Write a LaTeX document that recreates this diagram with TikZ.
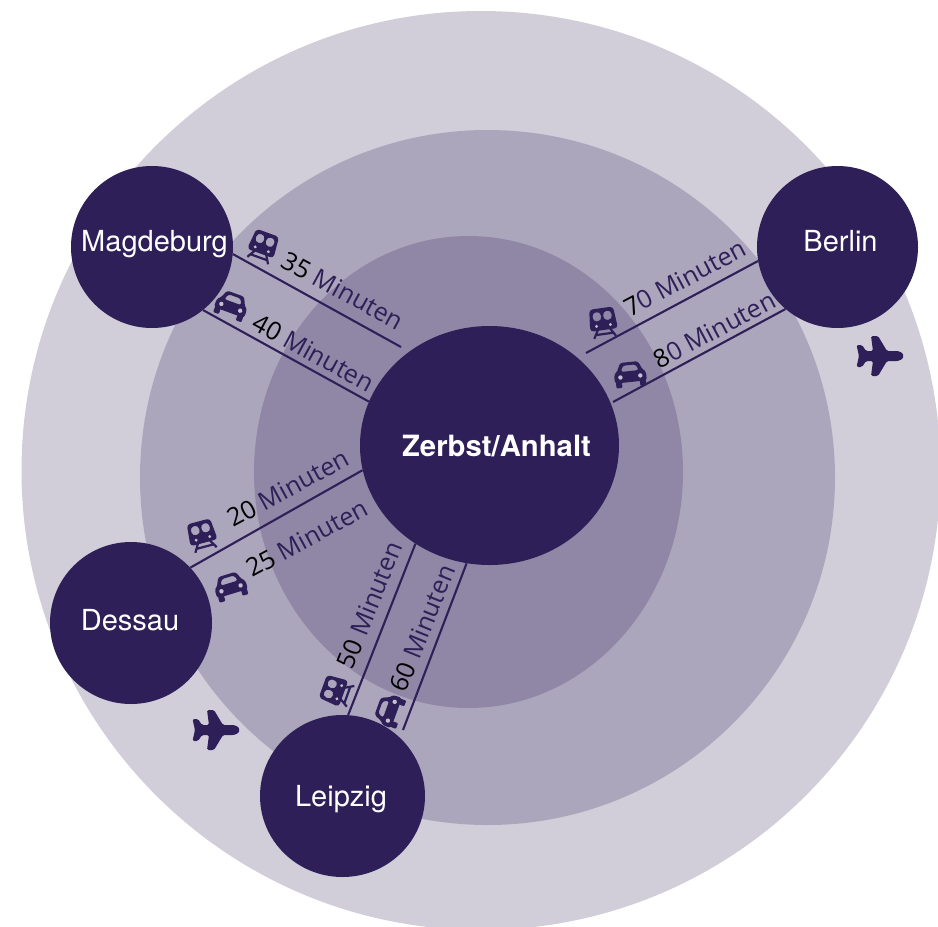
\documentclass[tikz,border=0pt]{standalone}
\usepackage{fontspec}
\setmainfont{TeX Gyre Heros}
\newfontfamily\minfont{Open Sans}
\usetikzlibrary{shapes.geometric}
\definecolor{ringa}{HTML}{D1CEDA}
\definecolor{ringb}{HTML}{ABA6BB}
\definecolor{ringc}{HTML}{9087A6}
\definecolor{deep}{HTML}{2E1F58}
\tikzset{
  city/.style={ellipse,fill=deep,draw=none,inner sep=0pt},
  cityname/.style={text=white,font=\fontsize{29}{30}\selectfont,inner sep=0pt,anchor=base},
  link/.style={draw=deep,line width=2.1pt},
  time/.style={text=deep,font=\minfont\fontsize{25.2}{27}\selectfont,inner sep=0pt},
  trainicon/.pic={
    \fill[deep,even odd rule,rounded corners=3.5pt]
      (-12,-14) -- (12,-14) -- (14,8) -- (-14,8) -- cycle
      (-9.5,-10.5) -- (-1.2,-10.5) -- (-1.2,-1.5) -- (-9.5,-1.5) -- cycle
      (1.2,-10.5) -- (9.5,-10.5) -- (9.5,-1.5) -- (1.2,-1.5) -- cycle;
    \fill[ringb!70!white] (-7,3.5) circle (1.6);
    \fill[ringb!70!white] (7,3.5) circle (1.6);
    \draw[deep,line width=2.2pt] (-6,7) -- (-11,15.5) (6,7) -- (11,15.5) (-9.5,12) -- (9.5,12);
  },
  caricon/.pic={
    \fill[deep,even odd rule,rounded corners=2.5pt]
      (-9,-11) -- (9,-11) -- (13,-2) -- (16,0) -- (16,9) -- (-16,9) -- (-16,0) -- (-13,-2) -- cycle
      (-6.5,-8) -- (6.5,-8) -- (9,-2) -- (-9,-2) -- cycle;
    \fill[ringb!70!white] (-10,3.5) circle (2.2);
    \fill[ringb!70!white] (10,3.5) circle (2.2);
    \fill[deep,rounded corners=1pt] (-15,8) rectangle (-9,14);
    \fill[deep,rounded corners=1pt] (9,8) rectangle (15,14);
  },
  planeicon/.pic={
    \fill[deep,rounded corners=1.5pt]
      (23,0) .. controls (23,-3) and (19,-5) .. (15,-5)
      -- (7,-5) -- (-2,-20) -- (-9,-20) -- (-7,-5) -- (-14,-5) -- (-18,-11) -- (-23.5,-11)
      -- (-21,0) -- (-23.5,11) -- (-18,11) -- (-14,5) -- (-7,5) -- (-9,20) -- (-2,20) -- (7,5) -- (15,5)
      .. controls (19,5) and (23,3) .. (23,0) -- cycle;
  }
}
\begin{document}
\begin{tikzpicture}[x=1pt,y=-1pt]
\useasboundingbox (0,0) rectangle (938,927);
\clip (0,0) rectangle (938,927);
\fill[white] (0,0) rectangle (938,927);
\fill[ringa] (481,470.5) circle [radius=459.5];
\fill[ringb] (487.5,477.5) circle [radius=347.5];
\fill[ringc] (468.5,472) ellipse [x radius=214.5,y radius=236];

\node[city,minimum width=259pt,minimum height=239pt] (zerbst) at (489.5,445.5) {};
\node[city,minimum width=162pt,minimum height=162pt] (magdeburg) at (152,247) {};
\node[city,minimum width=161pt,minimum height=162pt] (berlin) at (837.5,247) {};
\node[city,minimum width=162pt,minimum height=162pt] (dessau) at (131,623) {};
\node[city,minimum width=165pt,minimum height=162pt] (leipzig) at (342.5,796) {};

\node[cityname,font=\bfseries\fontsize{29.3}{30}\selectfont] (lzerbst) at (496.5,456) {Zerbst/Anhalt};
\node[cityname] (lmagdeburg) at (154.5,251) {Magdeburg};
\node[cityname] (lberlin) at (840.5,251) {Berlin};
\node[cityname] (ldessau) at (130,630) {Dessau};
\node[cityname] (lleipzig) at (341,806) {Leipzig};

\coordinate (mfree) at (401,347);
\coordinate (bfreea) at (586,353);
\coordinate (bfreeb) at (613,402);
\coordinate (lfree) at (403,730);
\draw[link] (magdeburg.-5.6) -- (mfree);
\draw[link] (magdeburg.-51) -- (zerbst.160.3);
\draw[link] (bfreea) -- (berlin.190.7);
\draw[link] (bfreeb) -- (berlin.230.9);
\draw[link] (dessau.43.5) -- (zerbst.191.4);
\draw[link] (leipzig.86) -- (zerbst.233.2);
\draw[link] (lfree) -- (zerbst.259.3);

\node[time,rotate=-28.7] (t35) at (343,290.5) {\textcolor{black}{35} Minuten};
\node[time,rotate=-28.7] (t40) at (313.5,352.5) {\textcolor{black}{40} Minuten};
\node[time,rotate=28] (t70) at (685,278) {\textcolor{black}{7}0 Minuten};
\node[time,rotate=28] (t80) at (714.5,330) {\textcolor{black}{8}0 Minuten};
\node[time,rotate=28.5] (t20) at (288,488) {\textcolor{black}{20} Minuten};
\node[time,rotate=28.5] (t25) at (307,538) {\textcolor{black}{25} Minuten};
\node[time,rotate=68] (t50) at (369.5,605) {\textcolor{black}{50} Minuten};
\node[time,rotate=68] (t60) at (422.5,628) {\textcolor{black}{60} Minuten};

\pic[rotate=-20] at (263,246) {trainicon};
\pic[rotate=-20] at (232,304) {caricon};
\pic[rotate=8] at (603,322) {trainicon};
\pic[rotate=6] at (630,373) {caricon};
\pic[rotate=15] at (202,535) {trainicon};
\pic[rotate=17] at (230,585) {caricon};
\pic[rotate=70] at (336,691) {trainicon};
\pic[rotate=70] at (388,710) {caricon};

\pic at (880,356) {planeicon};
\pic at (216,730) {planeicon};
\end{tikzpicture}
\end{document}
